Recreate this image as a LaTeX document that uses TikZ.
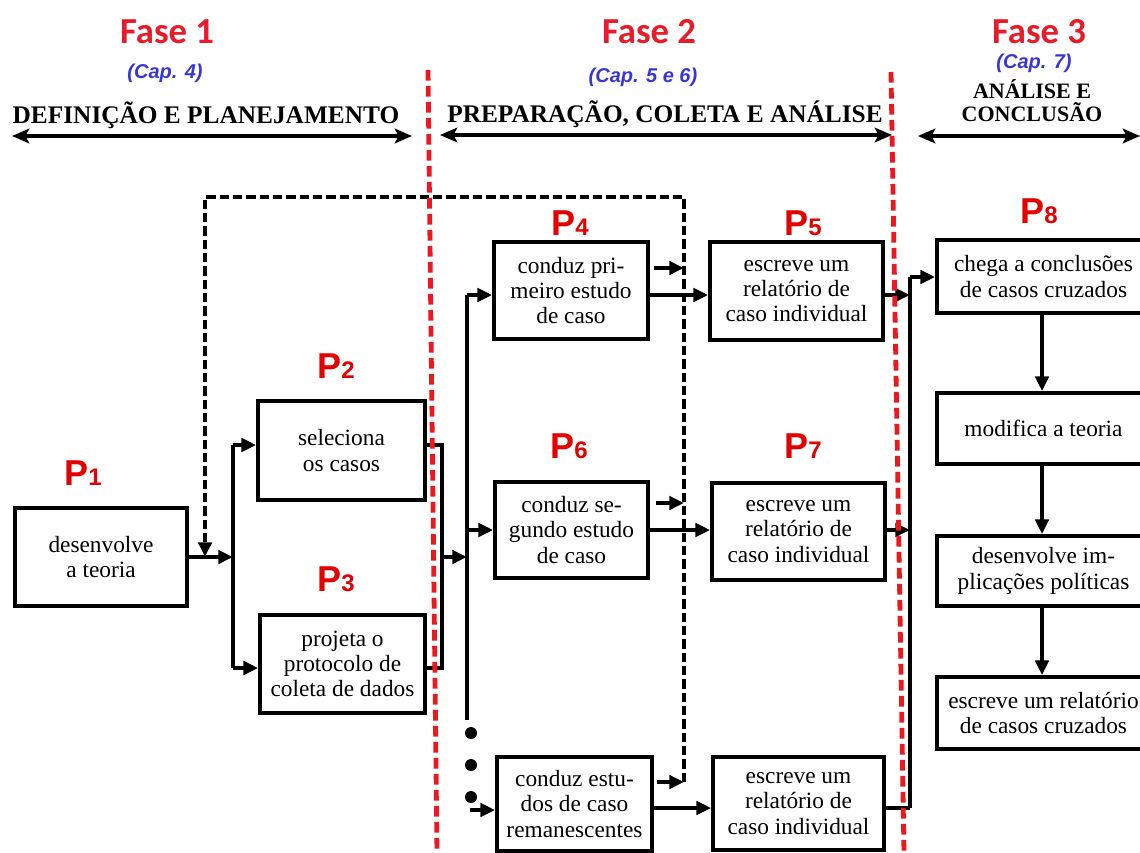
\documentclass[tikz,border=0pt]{standalone}
\usepackage{fontspec}
\setmainfont{Liberation Serif}
\newfontfamily\boxfont{Liberation Serif}
\newfontfamily\fasefont{Carlito}
\newfontfamily\capfont{Liberation Sans}
\usetikzlibrary{arrows.meta,calc}

\definecolor{faseRed}{RGB}{232,28,40}
\definecolor{pRed}{RGB}{226,0,0}
\definecolor{capBlue}{RGB}{55,55,215}
\definecolor{lineRed}{RGB}{235,25,30}

% step label: large P with a smaller digit
\newcommand{\Plabel}[1]{{\fontsize{27pt}{27pt}\selectfont P}{\fontsize{18pt}{18pt}\selectfont #1}}

\begin{document}
\begin{tikzpicture}[x=0.75pt,y=-0.75pt,
  box/.style 2 args={draw, line width=2.9pt, align=center, inner sep=0pt,
    minimum width=#1*0.75pt, minimum height=#2*0.75pt,
    font=\boxfont\fontsize{17.5pt}{19pt}\selectfont},
  fase/.style={text=faseRed, font=\fasefont\bfseries\fontsize{27.5pt}{30pt}\selectfont},
  chapref/.style={text=capBlue, font=\capfont\bfseries\itshape\fontsize{15pt}{17pt}\selectfont},
  hdr/.style={font=\bfseries\fontsize{19pt}{21pt}\selectfont, inner sep=0pt},
  hdrsmall/.style={font=\bfseries\fontsize{16.5pt}{18pt}\selectfont, inner sep=0pt},
  plab/.style={text=pRed, font=\capfont\bfseries, inner sep=0pt, anchor=base west},
  span/.style={line width=2.6pt, {Stealth[length=13pt,width=11pt,inset=3pt]}-{Stealth[length=13pt,width=11pt,inset=3pt]}},
  divider/.style={draw=lineRed, line width=3.6pt, dash pattern=on 8pt off 4pt},
  link/.style={line width=2.6pt},
  arr/.style={link, -{Triangle[length=11pt,width=10pt]}},
  feedback/.style={line width=2.6pt, dash pattern=on 7pt off 3pt},
  dot/.style={circle, fill=black, inner sep=0pt, minimum size=12*0.75pt}
]
\useasboundingbox (0,0) rectangle (1140,853);
\clip (0,0) rectangle (1140,853);

% phase titles
\node[fase] (f1) at (167,32) {Fase 1};
\node[fase] (f2) at (649,32) {Fase 2};
\node[fase] (f3) at (1039,32) {Fase 3};
\node[chapref] (c1) at (165,73) {(Cap. 4)};
\node[chapref] (c2) at (643,77) {(Cap. 5 e 6)};
\node[chapref] (c3) at (1034,63) {(Cap. 7)};
\node[hdr, anchor=base] (h1) at (206,123) {DEFINIÇÃO E PLANEJAMENTO};
\node[hdr, anchor=base] (h2) at (665,122) {PREPARAÇÃO, COLETA E ANÁLISE};
\node[hdrsmall, anchor=base] (h3a) at (1032,98) {ANÁLISE E};
\node[hdrsmall, anchor=base] (h3b) at (1032,121) {CONCLUSÃO};

% phase spans
\coordinate (s1l) at (12,136);  \coordinate (s1r) at (412,136);
\coordinate (s2l) at (440,135); \coordinate (s2r) at (892,135);
\coordinate (s3l) at (918,136); \coordinate (s3r) at (1140,136);
\draw[span] (s1l) -- (s1r);
\draw[span] (s2l) -- (s2r);
\draw[span] (s3l) -- (s3r);

% phase dividers
\coordinate (d1t) at (428,70);  \coordinate (d1b) at (437,853);
\coordinate (d2t) at (891,72);  \coordinate (d2b) at (904,853);

% step labels
\node[plab] (p1) at (64,485) {\Plabel{1}};
\node[plab] (p2) at (317,378) {\Plabel{2}};
\node[plab] (p3) at (317,591) {\Plabel{3}};
\node[plab] (p4) at (551,235) {\Plabel{4}};
\node[plab] (p5) at (784,235) {\Plabel{5}};
\node[plab] (p6) at (550,458) {\Plabel{6}};
\node[plab] (p7) at (784,458) {\Plabel{7}};
\node[plab] (p8) at (1020,223) {\Plabel{8}};

% boxes
\node[box={172}{98}] (b1) at (101,557) {desenvolve\\a teoria};
\node[box={167}{99}] (b2) at (341.5,450.5) {seleciona\\os casos};
\node[box={165}{98}] (b3) at (342.5,664) {projeta o\\protocolo de\\coleta de dados};
\node[box={154}{97}] (b4) at (571,290.5) {conduz pri-\\meiro estudo\\de caso};
\node[box={173}{98}] (b5) at (796.5,291) {escreve um\\relatório de\\caso individual};
\node[box={153}{96}] (b6) at (571.5,530) {conduz se-\\gundo estudo\\de caso};
\node[box={173}{97}] (b7) at (798.5,531.5) {escreve um\\relatório de\\caso individual};
\node[box={155}{94}] (b9) at (574.5,804) {conduz estu-\\dos de caso\\remanescentes};
\node[box={171}{93}] (b10) at (798.5,803.5) {escreve um\\relatório de\\caso individual};
\node[box={213}{73}] (b8) at (1043.5,276.5) {chega a conclusões\\de casos cruzados};
\node[box={213}{71}] (b11) at (1043.5,428.5) {modifica a teoria};
\node[box={213}{70}] (b12) at (1043.5,571) {desenvolve im-\\plicações políticas};
\node[box={213}{72}] (b13) at (1043.5,713) {escreve um relatório\\de casos cruzados};

% junction points
\coordinate (jA) at (233,557);
\coordinate (jAt) at (233,445);
\coordinate (jAb) at (233,668);
\coordinate (jBt) at (442,445);
\coordinate (jBb) at (442,668);
\coordinate (jBm) at (442,557);
\coordinate (jCt) at (467,295);
\coordinate (jCm) at (467,557);
\coordinate (jC6) at (467,530);
\coordinate (jCb) at (467,720);
\coordinate (jC9) at (470,810);
\coordinate (fbB) at (684,782);
\coordinate (fbTR) at (684,197);
\coordinate (fbTL) at (205,197);
\coordinate (fbE) at (205,557);
\coordinate (fb4) at (684,268);
\coordinate (fb6) at (684,503);
\coordinate (jDt) at (910,277);
\coordinate (jD5) at (910,295);
\coordinate (jD7) at (910,530);
\coordinate (jDb) at (910,808);
\coordinate (vx) at (1042,0);

% phase 1 flow
\draw[arr] (b1.east |- jA) -- (jA);
\draw[link] (jAt) -- (jAb);
\draw[arr] (jAt) -- (jAt -| b2.west);
\draw[arr] (jAb) -- (jAb -| b3.west);
\draw[link] (jBt -| b2.east) -- (jBt) -- (jBb) -- (jBb -| b3.east);
\draw[arr] (jBm) -- (jCm);

% distribution to the cases
\draw[link] (jCt) -- (jCb);
\draw[arr] (jCt) -- (jCt -| b4.west);
\draw[arr] (jC6) -- (jC6 -| b6.west);
\node[dot] (k1) at (471,733) {};
\node[dot] (k2) at (471,765) {};
\node[dot] (k3) at (471,797) {};
\draw[arr] (jC9) -- (jC9 -| b9.west);

% case study to individual report
\draw[arr] (jCt -| b4.east) -- (jCt -| b5.west);
\draw[arr] (jC6 -| b6.east) -- (jC6 -| b7.west);
\draw[arr] (jDb -| b9.east) -- (jDb -| b10.west);

% feedback loop
\draw[feedback, -{Triangle[length=11pt,width=10pt]}] (fbB) -- (fbTR) -- (fbTL) -- (fbE);
\draw[arr] ($(fb4 -| b4.east)+(4,0)$) -- (fb4);
\draw[arr] ($(fb6 -| b6.east)+(6,0)$) -- (fb6);
\draw[arr] ($(fbB -| b9.east)+(3,0)$) -- (fbB);

% reports to cross-case conclusions
\draw[link] (jDt) -- (jDb);
\draw[arr] (jD5 -| b5.east) -- (jD5);
\draw[arr] (jD7 -| b7.east) -- (jD7);
\draw[link] (jDb -| b10.east) -- (jDb);
\draw[arr] (jDt) -- (jDt -| b8.west);

% phase 3 chain
\draw[arr] (b8.south -| vx) -- (b11.north -| vx);
\draw[arr] (b11.south -| vx) -- (b12.north -| vx);
\draw[arr] (b12.south -| vx) -- (b13.north -| vx);

\draw[divider] (d1t) -- (d1b);
\draw[divider] (d2t) -- (d2b);
\end{tikzpicture}
\end{document}
